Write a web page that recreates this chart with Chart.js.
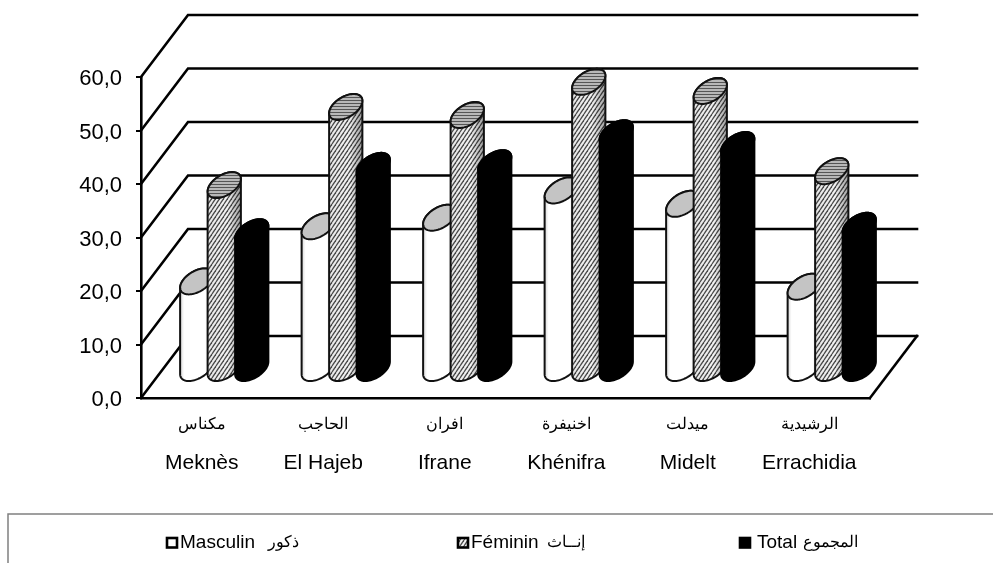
<!DOCTYPE html>
<html>
<head>
<meta charset="utf-8">
<style>
html,body{margin:0;padding:0;background:#fff;}
canvas{display:block;}
</style>
<script src="https://cdn.jsdelivr.net/npm/chart.js@4"></script>
</head>
<body>
<canvas id="chart" width="993" height="563"></canvas>
<script>
var categories = ['Meknès', 'El Hajeb', 'Ifrane', 'Khénifra', 'Midelt', 'Errachidia'];
var categoriesAr = ['مكناس', 'الحاجب', 'افران', 'اخنيفرة', 'ميدلت', 'الرشيدية'];
var masculin = [16.0, 26.3, 27.9, 33.0, 30.5, 15.0];
var feminin = [34.0, 48.6, 47.1, 53.3, 51.6, 36.6];
var total = [25.2, 37.6, 38.1, 43.7, 41.5, 26.4];
var yTickLabels = ['0,0', '10,0', '20,0', '30,0', '40,0', '50,0', '60,0'];
var seriesLabels = ['Masculin', 'Féminin', 'Total'];
var seriesLabelsAr = ['ذكور', 'إنــاث', 'المجموع'];

var font = '"Liberation Sans", Arial, sans-serif';
var ink = '#000';

// depth of the 3d box, in pixels
var depthX = 47, depthY = 62;
// bars stand half way into the box
var barDX = 22.5, barDY = 31;

var ctx = document.getElementById('chart').getContext('2d');

function makeTile(w, h, draw) {
    var c = document.createElement('canvas');
    c.width = w;
    c.height = h;
    draw(c.getContext('2d'), w, h);
    return ctx.createPattern(c, 'repeat');
}

var hatch = makeTile(4, 6, function(t, w, h) {
    t.fillStyle = '#f4f4f4';
    t.fillRect(0, 0, w, h);
    t.strokeStyle = '#4a4a4a';
    t.lineWidth = 1.3;
    for (var i = -1; i <= 1; i++) {
        t.beginPath();
        t.moveTo(i * w, h);
        t.lineTo(i * w + w, 0);
        t.stroke();
    }
});

var hatchTop = makeTile(3, 3, function(t, w, h) {
    t.fillStyle = '#b8b8b8';
    t.fillRect(0, 0, w, h);
    t.fillStyle = '#555';
    t.fillRect(0, 1, w, 1);
});

function ellipsePoint(cx, cy, rx, vx, vy, t) {
    return [cx + rx * Math.cos(t) + vx * Math.sin(t), cy + vy * Math.sin(t)];
}

function drawCylinder(c, cx, top, base, width, style) {
    var rx = width * 0.53, vx = 8, vy = -13;
    var t0 = Math.atan2(vx, rx);
    var side = Math.sqrt(rx * rx + vx * vx);
    var i, p, steps = 40;

    c.beginPath();
    for (i = 0; i <= steps; i++) {
        p = ellipsePoint(cx, base, rx, vx, vy, t0 + Math.PI + Math.PI * i / steps);
        if (i === 0) c.moveTo(p[0], p[1]); else c.lineTo(p[0], p[1]);
    }
    for (i = 0; i <= steps; i++) {
        p = ellipsePoint(cx, top, rx, vx, vy, t0 + Math.PI * i / steps);
        c.lineTo(p[0], p[1]);
    }
    c.closePath();
    c.fillStyle = style.body;
    c.fill();
    if (style.shade) {
        var g = c.createLinearGradient(cx - side, 0, cx + side, 0);
        for (i = 0; i < style.shade.length; i++) g.addColorStop(style.shade[i][0], style.shade[i][1]);
        c.fillStyle = g;
        c.fill();
    }
    c.lineWidth = 2;
    c.lineJoin = 'round';
    c.strokeStyle = style.line;
    c.stroke();

    c.beginPath();
    for (i = 0; i <= steps * 2; i++) {
        p = ellipsePoint(cx, top, rx, vx, vy, Math.PI * i / steps);
        if (i === 0) c.moveTo(p[0], p[1]); else c.lineTo(p[0], p[1]);
    }
    c.closePath();
    c.fillStyle = style.top;
    c.fill();
    c.stroke();
}

var barStyles = [
    { body: '#fff', top: '#c4c4c4', line: '#111', shade: [[0, 'rgba(0,0,0,0.16)'], [0.12, 'rgba(0,0,0,0)'], [0.75, 'rgba(0,0,0,0)'], [1, 'rgba(0,0,0,0.22)']] },
    { body: hatch, top: hatchTop, line: '#111', shade: [[0, 'rgba(0,0,0,0.05)'], [0.6, 'rgba(0,0,0,0)'], [1, 'rgba(0,0,0,0.35)']] },
    { body: '#000', top: '#000', line: '#000' }
];

var box3d = {
    id: 'box3d',
    beforeDatasetsDraw: function(chart) {
        var c = chart.ctx, x = chart.scales.x, y = chart.scales.y;
        c.save();
        c.strokeStyle = ink;
        c.lineWidth = 2.6;
        c.lineCap = 'square';
        y.ticks.forEach(function(tick) {
            var py = y.getPixelForValue(tick.value);
            c.beginPath();
            c.moveTo(x.left, py);
            c.lineTo(x.left + depthX, py - depthY);
            c.lineTo(x.right + depthX, py - depthY);
            c.stroke();
        });
        var y0 = y.getPixelForValue(0);
        c.beginPath();
        c.moveTo(x.right, y0);
        c.lineTo(x.right + depthX, y0 - depthY);
        c.stroke();
        c.restore();
    },
    afterDatasetsDraw: function(chart) {
        var c = chart.ctx, y = chart.scales.y;
        var base = y.getPixelForValue(0) - barDY + 1;
        c.save();
        chart.data.labels.forEach(function(label, j) {
            chart.data.datasets.forEach(function(ds, i) {
                var bar = chart.getDatasetMeta(i).data[j];
                drawCylinder(c, bar.x + barDX, bar.y - barDY, base, bar.width, barStyles[i]);
            });
        });
        c.restore();
    },
    afterDraw: function(chart) {
        var c = chart.ctx, x = chart.scales.x;
        c.save();
        // arabic names above the tick labels
        c.fillStyle = ink;
        c.font = '15.5px ' + font;
        c.textAlign = 'center';
        c.textBaseline = 'middle';
        categoriesAr.forEach(function(name, j) {
            c.fillText(name, x.getPixelForTick(j), 425);
        });

        // legend frame, open on the right and at the bottom
        c.strokeStyle = '#808080';
        c.lineWidth = 1.5;
        c.beginPath();
        c.moveTo(8, 563);
        c.lineTo(8, 514);
        c.lineTo(993, 514);
        c.stroke();

        var keyX = [166, 457, 739];
        var textX = [180, 471, 757];
        var arX = [268, 547, 803];
        c.textAlign = 'left';
        chart.data.datasets.forEach(function(ds, i) {
            c.fillStyle = barStyles[i].body;
            c.fillRect(keyX[i] + 1, 538, 10, 9.5);
            c.strokeStyle = ink;
            c.lineWidth = 2.6;
            c.strokeRect(keyX[i] + 1, 538, 10, 9.5);
            c.fillStyle = ink;
            c.font = '19px ' + font;
            c.fillText(ds.label, textX[i], 543);
            c.font = '16px ' + font;
            c.fillText(seriesLabelsAr[i], arX[i], 543);
        });
        c.restore();
    }
};

new Chart(ctx, {
    type: 'bar',
    data: {
        labels: categories,
        datasets: [
            { label: seriesLabels[0], data: masculin, backgroundColor: 'transparent' },
            { label: seriesLabels[1], data: feminin, backgroundColor: 'transparent' },
            { label: seriesLabels[2], data: total, backgroundColor: 'transparent' }
        ]
    },
    options: {
        responsive: false,
        animation: false,
        layout: { padding: { left: 0, right: 123, top: 77, bottom: 0 } },
        datasets: { bar: { categoryPercentage: 0.679, barPercentage: 1 } },
        plugins: { legend: { display: false }, title: { display: false }, tooltip: { enabled: false } },
        scales: {
            x: {
                afterFit: function(scale) { scale.height = 165; },
                grid: { drawOnChartArea: false, drawTicks: false },
                border: { color: ink, width: 2.6 },
                ticks: { color: ink, padding: 53, maxRotation: 0, font: { family: font, size: 21 } }
            },
            y: {
                min: 0,
                max: 60,
                afterFit: function(scale) { scale.width = 141; },
                grid: { drawOnChartArea: false, color: ink, lineWidth: 2, tickLength: 5 },
                border: { color: ink, width: 2.6 },
                ticks: {
                    stepSize: 10,
                    color: ink,
                    padding: 14,
                    labelOffset: 2,
                    font: { family: font, size: 22 },
                    callback: function(value, index) { return yTickLabels[index]; }
                }
            }
        }
    },
    plugins: [box3d]
});
</script>
</body>
</html>
